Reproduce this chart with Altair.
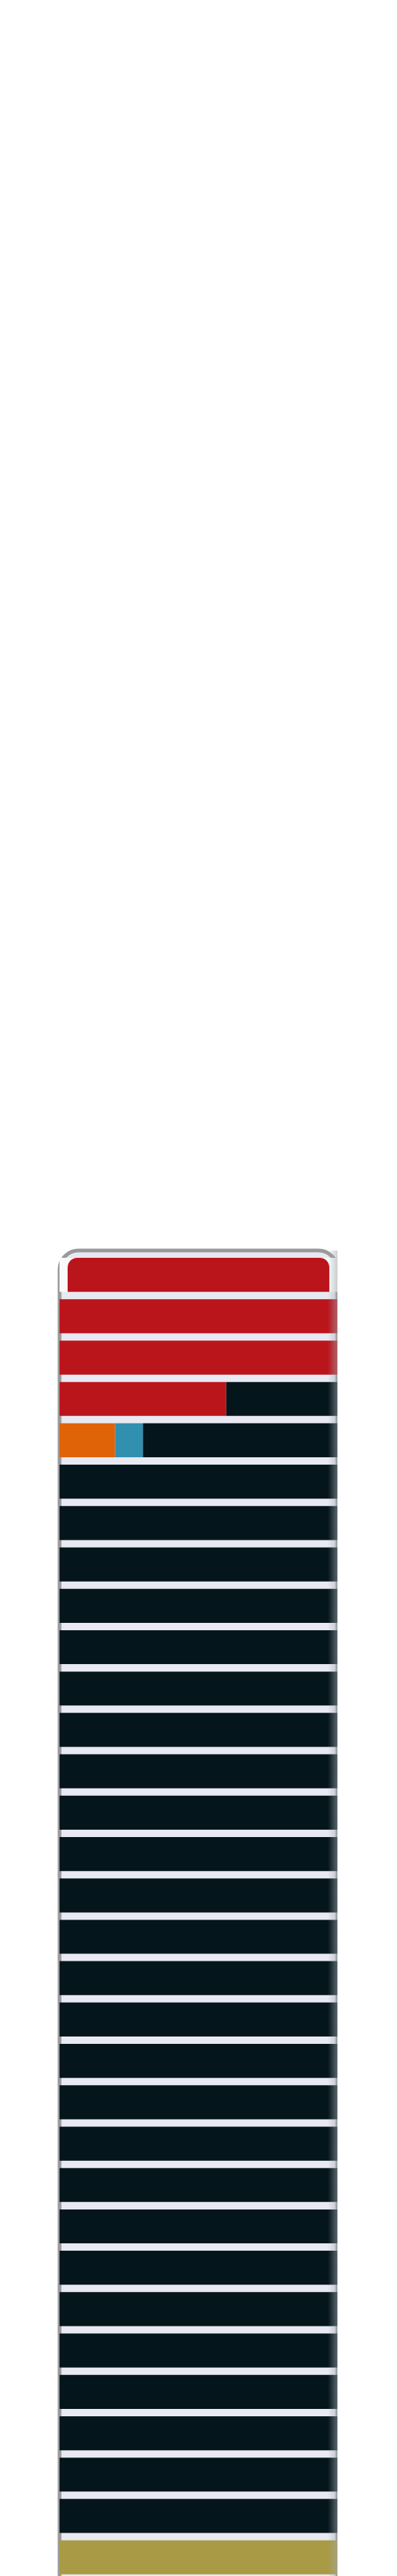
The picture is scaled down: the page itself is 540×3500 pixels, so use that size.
import pandas as pd
import altair as alt

# one entry per row, top to bottom; every row holds 10 units
rows = list(range(1, 33))
red = [10, 10, 10, 6, 0, 0, 0, 0, 0, 0, 0, 0, 0, 0, 0, 0,
       0, 0, 0, 0, 0, 0, 0, 0, 0, 0, 0, 0, 0, 0, 0, 0]
orange = [0, 0, 0, 0, 2, 0, 0, 0, 0, 0, 0, 0, 0, 0, 0, 0,
          0, 0, 0, 0, 0, 0, 0, 0, 0, 0, 0, 0, 0, 0, 0, 0]
blue = [0, 0, 0, 0, 1, 0, 0, 0, 0, 0, 0, 0, 0, 0, 0, 0,
        0, 0, 0, 0, 0, 0, 0, 0, 0, 0, 0, 0, 0, 0, 0, 0]
black = [0, 0, 0, 4, 7, 10, 10, 10, 10, 10, 10, 10, 10, 10, 10, 10,
         10, 10, 10, 10, 10, 10, 10, 10, 10, 10, 10, 10, 10, 10, 10, 0]
gold = [0, 0, 0, 0, 0, 0, 0, 0, 0, 0, 0, 0, 0, 0, 0, 0,
        0, 0, 0, 0, 0, 0, 0, 0, 0, 0, 0, 0, 0, 0, 0, 10]

groups = ["Red", "Orange", "Blue", "Black", "Gold"]
colors = ["#bb151c", "#e06308", "#3190b0", "#05151c", "#a99a45"]

# the frame continues past the bottom of the page: one empty slot more
slots = rows + [rows[-1] + 1]
W, H = 378, 1865

# 1. long table, each segment with its start and end inside the row
series = [red, orange, blue, black, gold]
records = []
for i, r in enumerate(rows):
    start = 0
    for g, vals in zip(groups, series):
        v = vals[i]
        if v > 0:
            records.append({"row": r, "group": g, "x0": start, "x1": start + v})
        start += v
df = pd.DataFrame(records)

y_enc = alt.Y("row:O", axis=None,
              scale=alt.Scale(domain=slots, paddingInner=0.178, paddingOuter=0.178))
x_enc = alt.X("x0:Q", axis=None, scale=alt.Scale(domain=[0, 10], nice=False))
x2_enc = alt.X2("x1:Q")
c_enc = alt.Color("group:N", legend=None,
                  scale=alt.Scale(domain=groups, range=colors))

base = alt.Chart(df)

# 2. all rows but the first
body = base.transform_filter("datum.row > 1").mark_bar().encode(
    y=y_enc, x=x_enc, x2=x2_enc, color=c_enc
)

# 3. the first row sits inset with rounded top corners
top_back = base.transform_filter("datum.row == 1").mark_bar(
    color="#fafafa"
).encode(y=y_enc, x=x_enc, x2=x2_enc)

top_row = base.transform_filter("datum.row == 1").mark_bar(
    xOffset=11, x2Offset=-11, cornerRadiusTopLeft=13, cornerRadiusTopRight=13
).encode(y=y_enc, x=x_enc, x2=x2_enc, color=c_enc)

# 4. soft shading along the right edge
shade = alt.Chart(pd.DataFrame({"edge": [1]})).mark_rect(
    fill=alt.LinearGradient(
        gradient="linear",
        stops=[alt.GradientStop(color="rgba(160,170,175,0)", offset=0),
               alt.GradientStop(color="rgba(160,170,175,0.55)", offset=1)],
        x1=0, x2=1, y1=0, y2=0,
    )
).encode(x=alt.value(W - 13), x2=alt.value(W), y=alt.value(0), y2=alt.value(H))

chart = alt.layer(top_back, body, top_row, shade).properties(
    width=W,
    height=H,
    padding={"left": 73, "top": 1691, "right": 0, "bottom": 0},
    background="white",
).configure_view(
    fill="#e8e9f2",
    stroke="#9a9a9a",
    strokeWidth=5,
    cornerRadius=26,
)

chart.save("out.html", embed_options={"renderer": "svg", "actions": False})
